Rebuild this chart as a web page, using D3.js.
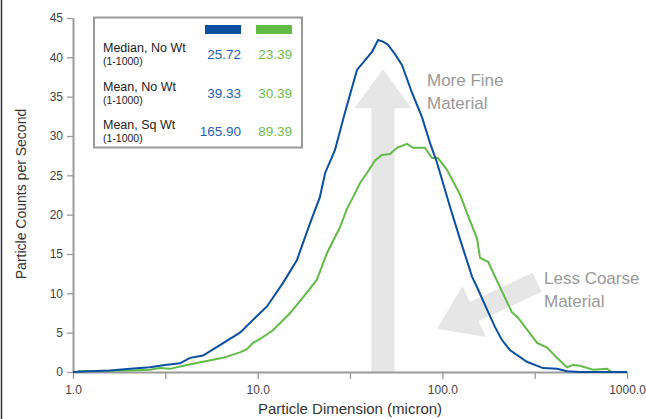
<!DOCTYPE html>
<html>
<head>
<meta charset="utf-8">
<script src="https://cdn.jsdelivr.net/npm/d3@7"></script>
<style>
  body { margin: 0; background: #fff; }
  svg { display: block; font-family: "Liberation Sans", Arial, sans-serif; }
</style>
</head>
<body>
<div id="chart"></div>
<script>
// particle size (micron) and counts per second
const blueSize = [1.0, 1.24, 1.59, 2.04, 2.61, 3.15, 3.8, 4.3, 5.06, 6.03, 8.02, 10.3, 11.2, 13.7, 16.3,
    19.2, 21.7, 23.2, 26.2, 29.7, 34.5, 38.1, 41.6, 44.9, 47.7, 50.8, 55.4, 60.5, 68.5, 77.6, 85.8,
    93.6, 110, 125, 145, 154, 175, 193, 210, 232, 287, 351, 418, 473, 556, 1000];
const blueCount = [0, 0.1, 0.2, 0.4, 0.6, 0.9, 1.1, 1.8, 2.1, 3.2, 5.0, 7.5, 8.3, 11.3, 14.2,
    18.9, 22.2, 25.3, 28.2, 33.0, 38.4, 39.6, 40.7, 42.2, 42.0, 41.6, 40.4, 39.0, 35.5, 32.4, 29.1,
    26.6, 21.0, 16.8, 12.1, 10.8, 7.9, 5.7, 4.1, 2.8, 1.3, 0.5, 0.4, 0.1, 0, 0];

const greenSize = [1.06, 1.59, 2.04, 2.61, 2.96, 3.35, 4.14, 5.06, 6.49, 8.02, 8.75, 9.44, 10.3, 12.1,
    15.0, 17.6, 20.9, 23.7, 27.9, 30.5, 32.8, 35.8, 39.1, 43.2, 47.1, 52.1, 56.8, 64.4, 69.4, 80.5,
    87.9, 94.7, 106, 125, 136, 154, 160, 177, 205, 238, 257, 326, 369, 418, 473, 510, 556, 655, 779,
    829, 1000];
const greenCount = [0.1, 0.15, 0.2, 0.3, 0.5, 0.4, 0.9, 1.3, 1.8, 2.5, 2.9, 3.7, 4.2, 5.3,
    7.5, 9.5, 11.7, 15.1, 18.4, 20.8, 22.2, 24.0, 25.3, 26.9, 27.6, 27.7, 28.5, 29.0, 28.5, 28.5,
    27.2, 27.2, 25.7, 22.5, 20.2, 17.0, 14.5, 14.0, 10.8, 7.6, 6.9, 3.7, 3.1, 1.8, 0.6, 0.9, 0.8, 0.3, 0.4,
    0, 0];

const yTicks = [0, 5, 10, 15, 20, 25, 30, 35, 40, 45];
const xTicks = [1, 3.162, 10, 31.62, 100, 316.2, 1000];
const xLabels = ["1.0", "", "10.0", "", "100.0", "", "1000.0"];

// legend table
const statNames = ["Median, No Wt", "Mean, No Wt", "Mean, Sq Wt"];
const statRange = ["(1-1000)", "(1-1000)", "(1-1000)"];
const blueStats = ["25.72", "39.33", "165.90"];
const greenStats = ["23.39", "30.39", "89.39"];

// annotation arrows in data units: [size, count] tail -> tip
const fineArrow = [[47.7, 0], [47.7, 38.5]];
const coarseArrow = [[326, 11.4], [93.6, 5.5]];

const W = 646, H = 419;
const blue = "#0b4fa3", green = "#62bb46";
const blueText = "#1f63b8", greenText = "#6cc04a";

const svg = d3.select("#chart").append("svg")
    .attr("width", W)
    .attr("height", H);

// frame line on the left edge
svg.append("line")
    .attr("x1", 1.5).attr("x2", 1.5)
    .attr("y1", 0).attr("y2", H)
    .attr("stroke", "#333").attr("stroke-width", 1.5);

const x = d3.scaleLog().domain([1, 1000]).range([73, 627]);
const y = d3.scaleLinear().domain([0, 45]).range([372, 18]);

// arrows (drawn first, behind the curves)
function arrowPath(tail, tip, shaftW, headW, headL) {
    const x0 = x(tail[0]), y0 = y(tail[1]);
    const x1 = x(tip[0]), y1 = y(tip[1]);
    const len = Math.hypot(x1 - x0, y1 - y0);
    const ang = Math.atan2(y1 - y0, x1 - x0) * 180 / Math.PI;
    const s = shaftW / 2, h = headW / 2;
    const pts = [[0, -s], [len - headL, -s], [len - headL, -h], [len, 0],
        [len - headL, h], [len - headL, s], [0, s]];
    svg.append("polygon")
        .attr("points", pts.map(p => p.join(",")).join(" "))
        .attr("transform", `translate(${x0},${y0}) rotate(${ang})`)
        .attr("fill", "#e6e6e6");
}
arrowPath(fineArrow[0], fineArrow[1], 23, 57, 39);
arrowPath(coarseArrow[0], coarseArrow[1], 21, 56, 41);

// annotation text
const note = svg.append("g")
    .attr("fill", "#999")
    .style("font-size", "17px");
note.append("text").attr("x", 427).attr("y", 86).text("More Fine");
note.append("text").attr("x", 427).attr("y", 109).text("Material");
note.append("text").attr("x", 544).attr("y", 284).text("Less Coarse");
note.append("text").attr("x", 544).attr("y", 307).text("Material");

// axes
const xAxis = svg.append("g")
    .attr("transform", "translate(0,372)")
    .call(d3.axisBottom(x).tickValues(xTicks)
        .tickFormat((d, i) => xLabels[i])
        .tickSize(7).tickSizeOuter(0).tickPadding(6));
const yAxis = svg.append("g")
    .attr("transform", "translate(73,0)")
    .call(d3.axisLeft(y).tickValues(yTicks).tickSize(6).tickSizeOuter(0).tickPadding(4));

[xAxis, yAxis].forEach(g => {
    g.select(".domain").attr("stroke", "#9a9a9a").attr("stroke-width", 2);
    g.selectAll(".tick line").attr("stroke", "#9a9a9a").attr("stroke-width", 1.3);
    g.selectAll(".tick text")
        .attr("fill", "#444")
        .style("font-size", "12px")
        .style("font-family", "'Liberation Sans', Arial, sans-serif");
});

svg.append("text")
    .attr("x", 350).attr("y", 414)
    .attr("text-anchor", "middle")
    .attr("fill", "#333")
    .style("font-size", "15px")
    .text("Particle Dimension (micron)");

svg.append("text")
    .attr("transform", "translate(26,194) rotate(-90)")
    .attr("text-anchor", "middle")
    .attr("fill", "#333")
    .style("font-size", "14px")
    .text("Particle Counts per Second");

// curves
const line = d3.line()
    .x(d => x(d[0]))
    .y(d => y(d[1]));

svg.append("path")
    .datum(greenSize.map((s, i) => [s, greenCount[i]]))
    .attr("fill", "none")
    .attr("stroke", green)
    .attr("stroke-width", 2)
    .attr("d", line);

svg.append("path")
    .datum(blueSize.map((s, i) => [s, blueCount[i]]))
    .attr("fill", "none")
    .attr("stroke", blue)
    .attr("stroke-width", 2)
    .attr("d", line);

// legend box
const legend = svg.append("g");
legend.append("rect")
    .attr("x", 94).attr("y", 17.5)
    .attr("width", 208).attr("height", 130)
    .attr("fill", "#fff")
    .attr("stroke", "#9a9a9a").attr("stroke-width", 2);
legend.append("rect").attr("x", 205).attr("y", 25).attr("width", 36).attr("height", 9).attr("fill", blue);
legend.append("rect").attr("x", 256).attr("y", 25).attr("width", 36).attr("height", 9).attr("fill", green);

statNames.forEach((name, i) => {
    const top = 52 + i * 38.5;
    legend.append("text")
        .attr("x", 103).attr("y", top)
        .attr("fill", "#222")
        .style("font-size", "12.5px")
        .text(name);
    legend.append("text")
        .attr("x", 103).attr("y", top + 13)
        .attr("fill", "#222")
        .style("font-size", "10.5px")
        .text(statRange[i]);
    legend.append("text")
        .attr("x", 241).attr("y", top + 7)
        .attr("text-anchor", "end")
        .attr("fill", blueText)
        .style("font-size", "13.5px")
        .text(blueStats[i]);
    legend.append("text")
        .attr("x", 292).attr("y", top + 7)
        .attr("text-anchor", "end")
        .attr("fill", greenText)
        .style("font-size", "13.5px")
        .text(greenStats[i]);
});
</script>
</body>
</html>
